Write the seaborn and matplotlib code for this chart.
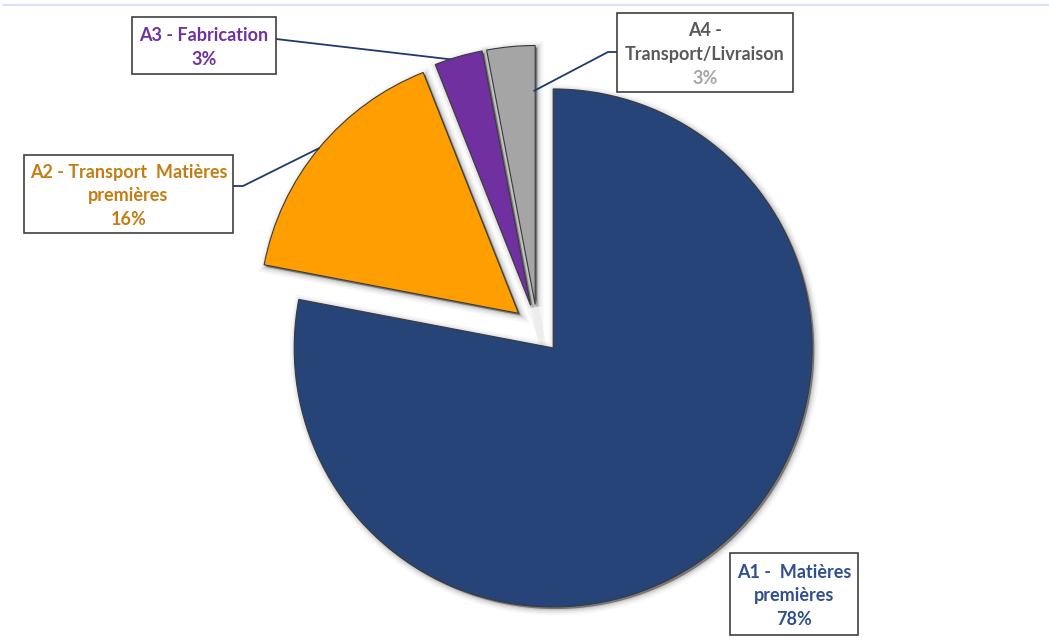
import matplotlib
matplotlib.use("Agg")
import matplotlib.pyplot as plt
import matplotlib.patheffects as pe
from matplotlib.patches import Rectangle, Wedge
from matplotlib.lines import Line2D
from matplotlib.transforms import Affine2D
import numpy as np
import seaborn as sns

sns.set_theme(style="white")
plt.rcParams["font.family"] = ["Lato", "DejaVu Sans"]

# Répartition des impacts par étape
categories = ["A1 -  Matières\npremières", "A2 - Transport  Matières\npremières",
              "A3 - Fabrication", "A4 -\nTransport/Livraison"]
values = [78, 16, 3, 3]
slice_colors = ["#264478", "#FF9E00", "#7030A0", "#A5A5A5"]
label_colors = ["#2F4F8F", "#C47D12", "#7030A0", "#595959"]
pct_colors = ["#2F4F8F", "#C47D12", "#7030A0", "#A5A5A5"]

W, H = 1049, 642
fig = plt.figure(figsize=(W / 100, H / 100), dpi=100)
ax = fig.add_axes([0, 0, 1, 1])

wedges, _ = ax.pie(values, colors=slice_colors, startangle=90, counterclock=False,
                   explode=[0.095] * len(values), radius=1.0,
                   wedgeprops=dict(edgecolor="#3A3A3A", linewidth=0.8))

# pie centre and radius in figure pixels
cx, cy, rad = 537.5, 329.0, 259.0
ax.set_xlim(-cx / rad, (W - cx) / rad)
ax.set_ylim((cy - H) / rad, cy / rad)
ax.set_aspect("auto")
ax.set_axis_off()

# pixel coordinates measured from the top-left corner
pix = Affine2D().scale(1 / W, -1 / H).translate(0, 1) + fig.transFigure


def to_data(x, y):
    return ax.transData.inverted().transform(pix.transform((x, y)))


# soft drop shadow beneath every slice
for w in wedges:
    w.set_zorder(3)
    sh = Wedge(w.center, w.r, w.theta1, w.theta2, facecolor=(0, 0, 0, 0.12),
               edgecolor="none", zorder=1)
    ax.add_patch(sh)
    effects = []
    for lw, a in [(9, 0.035), (6, 0.05), (3.5, 0.07), (1.5, 0.09)]:
        effects.append(pe.Stroke(linewidth=lw, foreground=(0, 0, 0, a), offset=(1.5, -1.5)))
    sh.set_path_effects(effects)


def edge_point(w, angle, r):
    a = np.deg2rad(angle)
    return w.center[0] + r * np.cos(a), w.center[1] + r * np.sin(a)


total = sum(values)
# label boxes (left, top, right, bottom) in pixels, and text line spacing
boxes = [(730, 553, 858, 635), (24, 155, 233, 233), (132, 17, 276, 74), (617, 13, 793, 92)]
step = 23.5

for i, (cat, v) in enumerate(zip(categories, values)):
    x0, y0, x1, y1 = boxes[i]
    rect = Rectangle((x0, y0), x1 - x0, y1 - y0, transform=pix, facecolor="white",
                     edgecolor="#404040", linewidth=1.2, zorder=6)
    fig.add_artist(rect)
    lines = cat.split("\n") + [f"{v / total * 100:.0f}%"]
    colors = [label_colors[i]] * (len(lines) - 1) + [pct_colors[i]]
    mx = (x0 + x1) / 2
    my = (y0 + y1) / 2 + 2
    n = len(lines)
    for k, (t, c) in enumerate(zip(lines, colors)):
        fig.text(mx, my + (k - (n - 1) / 2) * step, t, transform=pix, ha="center",
                 va="center", fontsize=13, fontweight="bold", color=c, zorder=7)

# leader lines from boxes to slices
lead = "#1F3A6E"
mid = lambda w: (w.theta1 + w.theta2) / 2
# A2
p = edge_point(wedges[1], mid(wedges[1]), 1.0)
a, b = to_data(233, 186), to_data(243, 186)
ax.plot([a[0], b[0], p[0]], [a[1], b[1], p[1]], color=lead, lw=1.3, zorder=5)
# A3
p = edge_point(wedges[2], mid(wedges[2]), 0.985)
a = to_data(276, 39)
ax.plot([a[0], p[0]], [a[1], p[1]], color=lead, lw=1.3, zorder=2)
# A4: attached to the right-hand edge of the slice
p = edge_point(wedges[3], min(wedges[3].theta1, wedges[3].theta2) + 0.3, 0.825)
a, b = to_data(617, 52), to_data(608, 52)
ax.plot([a[0], b[0], p[0]], [a[1], b[1], p[1]], color=lead, lw=1.3, zorder=5)

# thin border line along the top of the chart area
fig.add_artist(Line2D([3, W], [4.5, 4.5], transform=pix, color="#D6E4F5", lw=1.5))

fig.savefig("out.png", dpi=100, facecolor="white")
